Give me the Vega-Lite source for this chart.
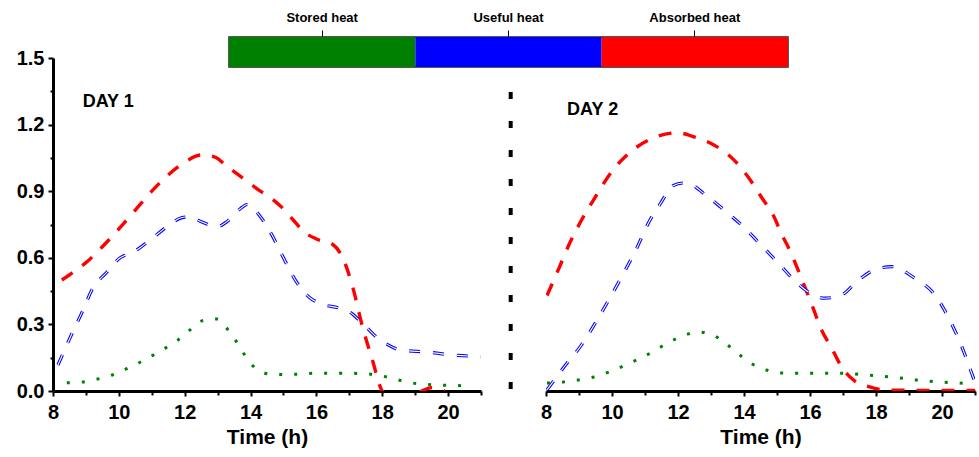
{
  "$schema": "https://vega.github.io/schema/vega-lite/v6.json",
  "background": "white",
  "padding": {"left": 16, "top": 10, "right": 4, "bottom": 3},
  "bounds": "flush",
  "config": {
    "font": "Liberation Sans",
    "view": {"stroke": null},
    "axis": {"labelFont": "Liberation Sans", "titleFont": "Liberation Sans", "labelFontWeight": "bold", "titleFontWeight": "bold", "labelColor": "black", "titleColor": "black", "domainColor": "black", "tickColor": "black", "grid": false}
  },
  "datasets": {
    "legend": [{"series": "Stored heat"}, {"series": "Useful heat"}, {"series": "Absorbed heat"}],
    "daylabels": [{"day": 1, "label": "DAY 1", "t": 8.9, "v": 1.3}, {"day": 2, "label": "DAY 2", "t": 8.64, "v": 1.266}],
    "divider": [{"t": 6.93, "top": 1.347, "bottom": 0.005}],
    "curves": [
      {"day":1,"series":"Absorbed heat","t":8.27,"v":0.50},{"day":1,"series":"Absorbed heat","t":8.7,"v":0.545},{"day":1,"series":"Absorbed heat","t":9.0,"v":0.578},{"day":1,"series":"Absorbed heat","t":9.5,"v":0.65},{"day":1,"series":"Absorbed heat","t":10.0,"v":0.73},{"day":1,"series":"Absorbed heat","t":10.5,"v":0.815},{"day":1,"series":"Absorbed heat","t":11.0,"v":0.90},{"day":1,"series":"Absorbed heat","t":11.55,"v":0.98},{"day":1,"series":"Absorbed heat","t":12.0,"v":1.03},{"day":1,"series":"Absorbed heat","t":12.5,"v":1.063},{"day":1,"series":"Absorbed heat","t":12.9,"v":1.055},{"day":1,"series":"Absorbed heat","t":13.3,"v":1.01},{"day":1,"series":"Absorbed heat","t":13.8,"v":0.955},{"day":1,"series":"Absorbed heat","t":14.3,"v":0.90},{"day":1,"series":"Absorbed heat","t":14.7,"v":0.86},{"day":1,"series":"Absorbed heat","t":15.0,"v":0.82},{"day":1,"series":"Absorbed heat","t":15.3,"v":0.77},{"day":1,"series":"Absorbed heat","t":15.6,"v":0.72},{"day":1,"series":"Absorbed heat","t":16.0,"v":0.685},{"day":1,"series":"Absorbed heat","t":16.5,"v":0.66},{"day":1,"series":"Absorbed heat","t":16.8,"v":0.60},{"day":1,"series":"Absorbed heat","t":17.1,"v":0.47},{"day":1,"series":"Absorbed heat","t":17.4,"v":0.29},{"day":1,"series":"Absorbed heat","t":17.7,"v":0.14},{"day":1,"series":"Absorbed heat","t":18.0,"v":0.0},{"day":1,"series":"Absorbed heat","t":18.4,"v":-0.04},{"day":1,"series":"Absorbed heat","t":18.8,"v":-0.03},{"day":1,"series":"Absorbed heat","t":19.2,"v":0.0},{"day":1,"series":"Absorbed heat","t":19.5,"v":0.015},{"day":1,"series":"Absorbed heat","t":19.9,"v":0.0},
      {"day":1,"series":"Useful heat","t":8.15,"v":0.117},{"day":1,"series":"Useful heat","t":8.58,"v":0.26},{"day":1,"series":"Useful heat","t":8.9,"v":0.36},{"day":1,"series":"Useful heat","t":9.18,"v":0.455},{"day":1,"series":"Useful heat","t":9.64,"v":0.536},{"day":1,"series":"Useful heat","t":10.04,"v":0.60},{"day":1,"series":"Useful heat","t":10.43,"v":0.625},{"day":1,"series":"Useful heat","t":10.95,"v":0.68},{"day":1,"series":"Useful heat","t":11.46,"v":0.74},{"day":1,"series":"Useful heat","t":11.9,"v":0.78},{"day":1,"series":"Useful heat","t":12.16,"v":0.785},{"day":1,"series":"Useful heat","t":12.47,"v":0.765},{"day":1,"series":"Useful heat","t":12.98,"v":0.74},{"day":1,"series":"Useful heat","t":13.3,"v":0.765},{"day":1,"series":"Useful heat","t":13.68,"v":0.82},{"day":1,"series":"Useful heat","t":13.9,"v":0.84},{"day":1,"series":"Useful heat","t":14.3,"v":0.785},{"day":1,"series":"Useful heat","t":14.66,"v":0.70},{"day":1,"series":"Useful heat","t":15.0,"v":0.60},{"day":1,"series":"Useful heat","t":15.4,"v":0.49},{"day":1,"series":"Useful heat","t":15.8,"v":0.42},{"day":1,"series":"Useful heat","t":16.1,"v":0.395},{"day":1,"series":"Useful heat","t":16.7,"v":0.373},{"day":1,"series":"Useful heat","t":17.0,"v":0.357},{"day":1,"series":"Useful heat","t":17.4,"v":0.305},{"day":1,"series":"Useful heat","t":17.85,"v":0.24},{"day":1,"series":"Useful heat","t":18.15,"v":0.21},{"day":1,"series":"Useful heat","t":18.55,"v":0.185},{"day":1,"series":"Useful heat","t":19.4,"v":0.175},{"day":1,"series":"Useful heat","t":20.07,"v":0.163},{"day":1,"series":"Useful heat","t":21.0,"v":0.155},
      {"day":1,"series":"Stored heat","t":8.42,"v":0.037},{"day":1,"series":"Stored heat","t":8.87,"v":0.04},{"day":1,"series":"Stored heat","t":9.33,"v":0.053},{"day":1,"series":"Stored heat","t":9.8,"v":0.072},{"day":1,"series":"Stored heat","t":10.2,"v":0.098},{"day":1,"series":"Stored heat","t":10.6,"v":0.126},{"day":1,"series":"Stored heat","t":11.0,"v":0.158},{"day":1,"series":"Stored heat","t":11.4,"v":0.192},{"day":1,"series":"Stored heat","t":11.8,"v":0.23},{"day":1,"series":"Stored heat","t":12.16,"v":0.275},{"day":1,"series":"Stored heat","t":12.52,"v":0.316},{"day":1,"series":"Stored heat","t":12.98,"v":0.324},{"day":1,"series":"Stored heat","t":13.32,"v":0.275},{"day":1,"series":"Stored heat","t":13.6,"v":0.216},{"day":1,"series":"Stored heat","t":13.84,"v":0.158},{"day":1,"series":"Stored heat","t":14.14,"v":0.104},{"day":1,"series":"Stored heat","t":14.6,"v":0.076},{"day":1,"series":"Stored heat","t":15.05,"v":0.074},{"day":1,"series":"Stored heat","t":15.5,"v":0.076},{"day":1,"series":"Stored heat","t":15.96,"v":0.08},{"day":1,"series":"Stored heat","t":16.4,"v":0.08},{"day":1,"series":"Stored heat","t":16.93,"v":0.08},{"day":1,"series":"Stored heat","t":17.4,"v":0.078},{"day":1,"series":"Stored heat","t":17.85,"v":0.072},{"day":1,"series":"Stored heat","t":18.3,"v":0.057},{"day":1,"series":"Stored heat","t":18.76,"v":0.04},{"day":1,"series":"Stored heat","t":19.2,"v":0.031},{"day":1,"series":"Stored heat","t":19.67,"v":0.027},{"day":1,"series":"Stored heat","t":20.16,"v":0.025},{"day":1,"series":"Stored heat","t":20.75,"v":0.022},
      {"day":2,"series":"Absorbed heat","t":8.03,"v":0.43},{"day":2,"series":"Absorbed heat","t":8.37,"v":0.545},{"day":2,"series":"Absorbed heat","t":8.73,"v":0.67},{"day":2,"series":"Absorbed heat","t":9.04,"v":0.76},{"day":2,"series":"Absorbed heat","t":9.5,"v":0.875},{"day":2,"series":"Absorbed heat","t":9.95,"v":0.98},{"day":2,"series":"Absorbed heat","t":10.56,"v":1.077},{"day":2,"series":"Absorbed heat","t":11.26,"v":1.14},{"day":2,"series":"Absorbed heat","t":11.99,"v":1.163},{"day":2,"series":"Absorbed heat","t":12.48,"v":1.145},{"day":2,"series":"Absorbed heat","t":13.09,"v":1.108},{"day":2,"series":"Absorbed heat","t":13.7,"v":1.04},{"day":2,"series":"Absorbed heat","t":14.12,"v":0.965},{"day":2,"series":"Absorbed heat","t":14.52,"v":0.875},{"day":2,"series":"Absorbed heat","t":14.91,"v":0.785},{"day":2,"series":"Absorbed heat","t":15.13,"v":0.71},{"day":2,"series":"Absorbed heat","t":15.43,"v":0.62},{"day":2,"series":"Absorbed heat","t":15.74,"v":0.507},{"day":2,"series":"Absorbed heat","t":16.04,"v":0.395},{"day":2,"series":"Absorbed heat","t":16.35,"v":0.275},{"day":2,"series":"Absorbed heat","t":16.65,"v":0.195},{"day":2,"series":"Absorbed heat","t":16.95,"v":0.11},{"day":2,"series":"Absorbed heat","t":17.36,"v":0.045},{"day":2,"series":"Absorbed heat","t":17.78,"v":0.02},{"day":2,"series":"Absorbed heat","t":18.27,"v":0.005},{"day":2,"series":"Absorbed heat","t":19.0,"v":0.003},{"day":2,"series":"Absorbed heat","t":20.0,"v":0.003},{"day":2,"series":"Absorbed heat","t":21.0,"v":0.003},
      {"day":2,"series":"Useful heat","t":8.03,"v":0.005},{"day":2,"series":"Useful heat","t":8.64,"v":0.126},{"day":2,"series":"Useful heat","t":9.04,"v":0.2},{"day":2,"series":"Useful heat","t":9.55,"v":0.32},{"day":2,"series":"Useful heat","t":9.95,"v":0.423},{"day":2,"series":"Useful heat","t":10.35,"v":0.53},{"day":2,"series":"Useful heat","t":10.77,"v":0.65},{"day":2,"series":"Useful heat","t":11.1,"v":0.756},{"day":2,"series":"Useful heat","t":11.47,"v":0.845},{"day":2,"series":"Useful heat","t":11.85,"v":0.925},{"day":2,"series":"Useful heat","t":12.15,"v":0.937},{"day":2,"series":"Useful heat","t":12.4,"v":0.93},{"day":2,"series":"Useful heat","t":12.78,"v":0.89},{"day":2,"series":"Useful heat","t":13.4,"v":0.815},{"day":2,"series":"Useful heat","t":14.0,"v":0.737},{"day":2,"series":"Useful heat","t":14.52,"v":0.657},{"day":2,"series":"Useful heat","t":15.04,"v":0.576},{"day":2,"series":"Useful heat","t":15.52,"v":0.5},{"day":2,"series":"Useful heat","t":15.95,"v":0.446},{"day":2,"series":"Useful heat","t":16.44,"v":0.418},{"day":2,"series":"Useful heat","t":16.95,"v":0.432},{"day":2,"series":"Useful heat","t":17.47,"v":0.5},{"day":2,"series":"Useful heat","t":18.08,"v":0.553},{"day":2,"series":"Useful heat","t":18.48,"v":0.56},{"day":2,"series":"Useful heat","t":19.18,"v":0.507},{"day":2,"series":"Useful heat","t":19.79,"v":0.432},{"day":2,"series":"Useful heat","t":20.2,"v":0.33},{"day":2,"series":"Useful heat","t":20.6,"v":0.2},{"day":2,"series":"Useful heat","t":20.9,"v":0.08},{"day":2,"series":"Useful heat","t":21.0,"v":0.04},
      {"day":2,"series":"Stored heat","t":8.03,"v":0.036},{"day":2,"series":"Stored heat","t":8.5,"v":0.04},{"day":2,"series":"Stored heat","t":8.98,"v":0.05},{"day":2,"series":"Stored heat","t":9.45,"v":0.063},{"day":2,"series":"Stored heat","t":9.92,"v":0.086},{"day":2,"series":"Stored heat","t":10.35,"v":0.113},{"day":2,"series":"Stored heat","t":10.8,"v":0.144},{"day":2,"series":"Stored heat","t":11.23,"v":0.176},{"day":2,"series":"Stored heat","t":11.68,"v":0.216},{"day":2,"series":"Stored heat","t":12.14,"v":0.248},{"day":2,"series":"Stored heat","t":12.6,"v":0.266},{"day":2,"series":"Stored heat","t":13.06,"v":0.252},{"day":2,"series":"Stored heat","t":13.43,"v":0.216},{"day":2,"series":"Stored heat","t":13.8,"v":0.171},{"day":2,"series":"Stored heat","t":14.2,"v":0.126},{"day":2,"series":"Stored heat","t":14.67,"v":0.095},{"day":2,"series":"Stored heat","t":15.13,"v":0.081},{"day":2,"series":"Stored heat","t":15.6,"v":0.08},{"day":2,"series":"Stored heat","t":16.1,"v":0.08},{"day":2,"series":"Stored heat","t":16.6,"v":0.08},{"day":2,"series":"Stored heat","t":17.07,"v":0.08},{"day":2,"series":"Stored heat","t":17.56,"v":0.074},{"day":2,"series":"Stored heat","t":18.05,"v":0.068},{"day":2,"series":"Stored heat","t":18.54,"v":0.062},{"day":2,"series":"Stored heat","t":19.03,"v":0.053},{"day":2,"series":"Stored heat","t":19.5,"v":0.045},{"day":2,"series":"Stored heat","t":20.0,"v":0.04},{"day":2,"series":"Stored heat","t":20.5,"v":0.036},{"day":2,"series":"Stored heat","t":20.97,"v":0.032}
    ]
  },
  "spacing": 21,
  "vconcat": [
    {
      "spacing": 0,
      "bounds": "flush",
      "hconcat": [
        {"width": 176, "height": 30, "data": {"values": []}, "mark": "point"},
        {
          "width": 559, "height": 30,
          "data": {"name": "legend"},
          "view": {"stroke": "#222", "strokeWidth": 1.5},
          "mark": {"type": "bar"},
          "encoding": {
            "x": {"field": "series", "type": "nominal", "sort": null, "scale": {"paddingInner": 0, "paddingOuter": 0},
                  "axis": {"orient": "top", "title": null, "labelAngle": 0, "labelFontSize": 13, "domain": false, "tickSize": 7, "tickWidth": 1, "labelPadding": 6}},
            "color": {"field": "series", "type": "nominal", "scale": {"domain": ["Stored heat", "Useful heat", "Absorbed heat"], "range": ["#008000", "#0000ff", "#ff0000"]}, "legend": null}
          }
        }
      ]
    },
    {
      "spacing": 65,
      "bounds": "flush",
      "hconcat": [
        {
          "width": 428, "height": 333,
          "encoding": {
            "x": {"field": "t", "type": "quantitative", "scale": {"domain": [8, 21], "nice": false, "zero": false},
                  "axis": {"values": [8,9,10,11,12,13,14,15,16,17,18,19,20,21], "labelExpr": "datum.value % 2 === 0 && datum.value < 21 ? datum.label : ''", "labelOverlap": false, "labelFlush": false,
                           "tickSize": {"condition": {"test": "datum.value % 2 === 0", "value": 5}, "value": 4}, "tickWidth": 2, "domainWidth": 3, "labelFontSize": 20, "labelPadding": 6, "title": "Time (h)", "titleFontSize": 21, "titlePadding": 4}},
            "y": {"field": "v", "type": "quantitative", "scale": {"domain": [0, 1.5], "nice": false},
                  "axis": {"values": [0,0.15,0.3,0.45,0.6,0.75,0.9,1.05,1.2,1.35,1.5], "format": ".1f", "labelExpr": "round(datum.value*100) % 30 === 0 ? datum.label : ''", "labelOverlap": false, "labelFlush": false,
                           "tickSize": {"condition": {"test": "round(datum.value*100) % 30 === 0", "value": 5}, "value": 3}, "tickWidth": 2, "domainWidth": 3, "labelFontSize": 20, "labelPadding": 4, "title": null}}
          },
          "layer": [
            {
              "data": {"name": "curves"},
              "transform": [{"filter": "datum.day === 1"}],
              "mark": {"type": "line", "interpolate": "monotone", "clip": true, "strokeCap": "butt"},
              "encoding": {
                "color": {"field": "series", "type": "nominal", "scale": {"domain": ["Stored heat", "Useful heat", "Absorbed heat"], "range": ["#008000", "#0000ff", "#ff0000"]}, "legend": null},
                "strokeDash": {"field": "series", "type": "nominal", "scale": {"domain": ["Stored heat", "Useful heat", "Absorbed heat"], "range": [[3, 12], [11, 13], [13, 12]]}, "legend": null},
                "strokeWidth": {"field": "series", "type": "nominal", "scale": {"domain": ["Stored heat", "Useful heat", "Absorbed heat"], "range": [3, 3.4, 2.8]}, "legend": null}
              }
            },
            {
              "data": {"name": "curves"},
              "transform": [{"filter": "datum.day === 1 && datum.series === 'Useful heat'"}],
              "mark": {"type": "line", "interpolate": "monotone", "clip": true, "color": "white", "strokeWidth": 1.1, "strokeDash": [11, 13], "strokeCap": "butt"},
              "encoding": {}
            },
            {
              "data": {"name": "daylabels"},
              "transform": [{"filter": "datum.day === 1"}],
              "mark": {"type": "text", "align": "left", "baseline": "middle", "fontSize": 18, "fontWeight": "bold", "font": "Liberation Sans", "color": "black"},
              "encoding": {"text": {"field": "label", "type": "nominal"}}
            }
          ]
        },
        {
          "width": 429, "height": 333,
          "encoding": {
            "x": {"field": "t", "type": "quantitative", "scale": {"domain": [8, 21], "nice": false, "zero": false},
                  "axis": {"values": [8,9,10,11,12,13,14,15,16,17,18,19,20,21], "labelExpr": "datum.value % 2 === 0 && datum.value < 21 ? datum.label : ''", "labelOverlap": false, "labelFlush": false,
                           "tickSize": {"condition": {"test": "datum.value % 2 === 0", "value": 5}, "value": 4}, "tickWidth": 2, "domainWidth": 3, "labelFontSize": 20, "labelPadding": 6, "title": "Time (h)", "titleFontSize": 21, "titlePadding": 4}},
            "y": {"field": "v", "type": "quantitative", "scale": {"domain": [0, 1.5], "nice": false}, "axis": null}
          },
          "layer": [
            {
              "data": {"name": "curves"},
              "transform": [{"filter": "datum.day === 2"}],
              "mark": {"type": "line", "interpolate": "monotone", "clip": true, "strokeCap": "butt"},
              "encoding": {
                "color": {"field": "series", "type": "nominal", "scale": {"domain": ["Stored heat", "Useful heat", "Absorbed heat"], "range": ["#008000", "#0000ff", "#ff0000"]}, "legend": null},
                "strokeDash": {"field": "series", "type": "nominal", "scale": {"domain": ["Stored heat", "Useful heat", "Absorbed heat"], "range": [[3, 12], [11, 13], [13, 12]]}, "legend": null},
                "strokeWidth": {"field": "series", "type": "nominal", "scale": {"domain": ["Stored heat", "Useful heat", "Absorbed heat"], "range": [3, 3.4, 2.8]}, "legend": null}
              }
            },
            {
              "data": {"name": "curves"},
              "transform": [{"filter": "datum.day === 2 && datum.series === 'Useful heat'"}],
              "mark": {"type": "line", "interpolate": "monotone", "clip": true, "color": "white", "strokeWidth": 1.1, "strokeDash": [11, 13], "strokeCap": "butt"},
              "encoding": {}
            },
            {
              "data": {"name": "daylabels"},
              "transform": [{"filter": "datum.day === 2"}],
              "mark": {"type": "text", "align": "left", "baseline": "middle", "fontSize": 18, "fontWeight": "bold", "font": "Liberation Sans", "color": "black"},
              "encoding": {"text": {"field": "label", "type": "nominal"}}
            },
            {
              "data": {"name": "divider"},
              "mark": {"type": "rule", "color": "black", "strokeWidth": 4, "strokeDash": [7, 22], "clip": false},
              "encoding": {"y": {"field": "top", "type": "quantitative"}, "y2": {"field": "bottom"}}
            }
          ]
        }
      ]
    }
  ]
}
